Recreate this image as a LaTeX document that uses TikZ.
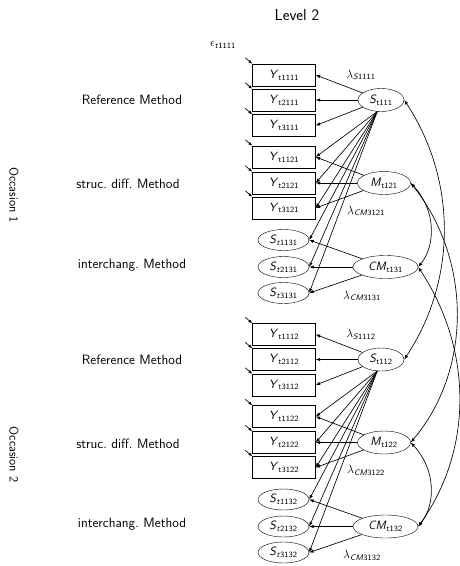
\documentclass[tikz,border=0pt]{standalone}
\usepackage{fontspec}
\usetikzlibrary{arrows.meta,shapes.geometric}
\renewcommand{\familydefault}{\sfdefault}
\newcommand{\Yv}[1]{\textit{Y}\textsubscript{t#1}}
\newcommand{\Sv}[1]{\textit{S}\textsubscript{\textit{t}#1}}
\begin{document}
\begin{tikzpicture}[x=1pt,y=-1pt,
  font=\sffamily\fontsize{12}{14}\selectfont,
  obs/.style={draw, rectangle, minimum width=63pt, minimum height=22pt, inner sep=0pt},
  lat/.style={draw, ellipse, minimum width=51pt, minimum height=21pt, inner sep=0pt},
  fac/.style={draw, ellipse, minimum height=23pt, inner sep=0pt},
  arr/.style={-{Latex[length=4.5pt,width=3.4pt]}, line width=0.65pt},
  err/.style={-{Latex[length=4pt,width=3pt]}, line width=0.65pt},
  dbl/.style={{Latex[length=4.5pt,width=3.4pt]}-{Latex[length=4.5pt,width=3.4pt]}, line width=0.65pt},
  lab/.style={font=\sffamily\fontsize{13.5}{15}\selectfont},
  lam/.style={font=\fontsize{12}{14}\selectfont, inner sep=0pt}]
\useasboundingbox (0,0) rectangle (459,566);
\node[font=\sffamily\fontsize{16}{18}\selectfont] (title) at (297,15) {Level 2};
\node[font=\fontsize{11.5}{13}\selectfont] (eps) at (223,45) {$\epsilon$\textsubscript{\textit{t}1111}};
\foreach \o/\d in {1/0,2/259.5}{
  % labels
  \node[lab] (ref\o) at (132,{100+\d}) {Reference Method};
  \node[lab] (sd\o) at (128,{184+\d}) {struc.\ diff.\ Method};
  \node[lab] (ic\o) at (132,{265+\d}) {interchang.\ Method};
  \node[font=\sffamily\fontsize{12.5}{15}\selectfont, rotate=-90] (occ\o) at (14,{195+\d}) {Occasion \o};
  % observed variables
  \node[obs] (Y11\o) at (284,{75+\d}) {\Yv{111\o}};
  \node[obs] (Y21\o) at (284,{100+\d}) {\Yv{211\o}};
  \node[obs] (Y31\o) at (284,{125.5+\d}) {\Yv{311\o}};
  \node[obs] (Y12\o) at (284,{157+\d}) {\Yv{112\o}};
  \node[obs] (Y22\o) at (284,{183+\d}) {\Yv{212\o}};
  \node[obs] (Y32\o) at (284,{208+\d}) {\Yv{312\o}};
  \node[lat] (S13\o) at (283.5,{240+\d}) {\Sv{113\o}};
  \node[lat] (S23\o) at (283.5,{267+\d}) {\Sv{213\o}};
  \node[lat] (S33\o) at (283.5,{293+\d}) {\Sv{313\o}};
  % factors
  \node[fac, minimum width=46pt] (SR\o) at (381,{100+\d}) {\textit{S}\textsubscript{t11\o}};
  \node[fac, minimum width=53pt] (M\o) at (384,{183+\d}) {\textit{M}\textsubscript{t12\o}};
  \node[fac, minimum width=65pt] (CM\o) at (385.5,{267+\d}) {\textit{CM}\textsubscript{t13\o}};
  % loadings labels
  \node[lam] (lS\o) at (361,{75+\d}) {$\lambda$\textsubscript{\textit{S}111\o}};
  \node[lam] (lM\o) at (366,{211+\d}) {$\lambda$\textsubscript{\textit{CM}312\o}};
  \node[lam] (lC\o) at (362,{296+\d}) {$\lambda$\textsubscript{\textit{CM}313\o}};
  % error arrows
  \foreach \n in {11,21,31,12,22,32}{
    \coordinate (e\n\o) at ([shift={(-7,-6)}]Y\n\o.north west);
    \draw[err] (e\n\o) -- (Y\n\o.north west);
  }
  % reference method loadings
  \foreach \n in {11,21,31}{ \draw[arr] (SR\o) -- (Y\n\o.east); }
  \foreach \n in {Y12,Y22,Y32,S13,S23,S33}{ \draw[arr] (SR\o.252) -- (\n\o.east); }
  \foreach \n in {12,22,32}{ \draw[arr] (M\o) -- (Y\n\o.east); }
  \foreach \n in {13,23,33}{ \draw[arr] (CM\o) -- (S\n\o.east); }
  % covariance within occasion
  \draw[dbl] (M\o.east) .. controls (436,{210+\d}) and (436,{245+\d}) .. (CM\o.east);
}
% covariances across occasions
\draw[dbl] (SR1.east) .. controls (457,180) and (457,280) .. (SR2.east);
\draw[dbl] (M1.east) .. controls (472,260) and (472,370) .. (M2.east);
\draw[dbl] (CM1.east) .. controls (473,350) and (473,450) .. (CM2.east);
\end{tikzpicture}
\end{document}
